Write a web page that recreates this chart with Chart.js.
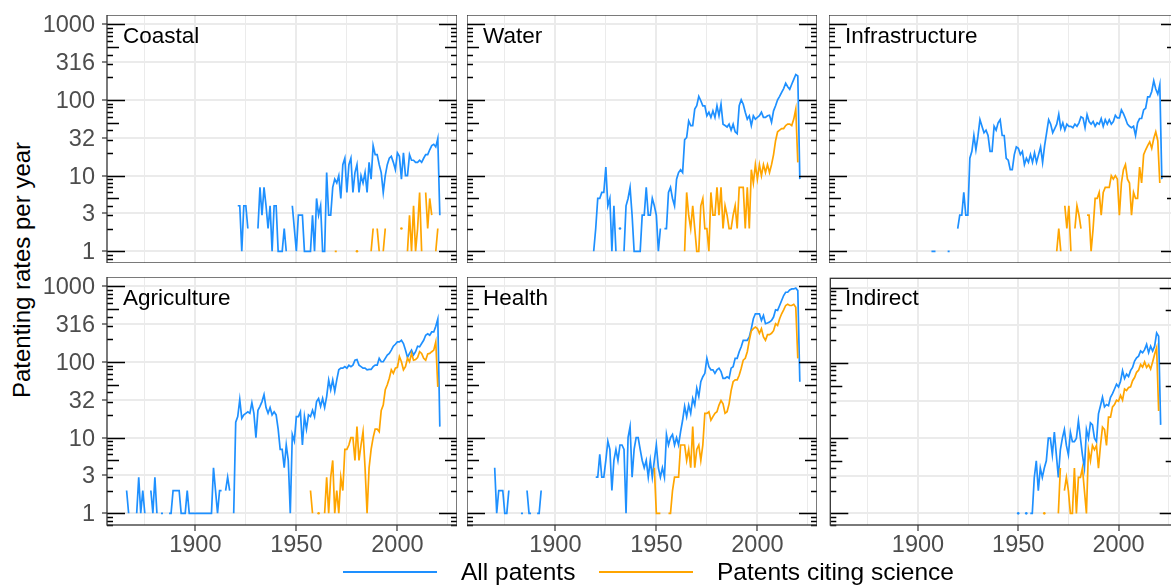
<!DOCTYPE html>
<html>
<head>
<meta charset="utf-8">
<script src="https://cdn.jsdelivr.net/npm/chart.js@4.4.1/dist/chart.umd.min.js"></script>
<style>
  html, body { margin: 0; padding: 0; background: #fff; overflow: hidden; }
  body { width: 1171px; height: 585px; position: relative; font-family: "Liberation Sans", Arial, sans-serif; }
  canvas { position: absolute; }
  .strip { position: absolute; font-size: 22.5px; line-height: 22.5px; color: #000; z-index: 2; white-space: nowrap; }
  .ytitle { position: absolute; left: 22px; top: 270px; transform: translate(-50%, -50%) rotate(-90deg);
            font-size: 24px; white-space: nowrap; color: #000; }
  .key-line { position: absolute; height: 2.4px; top: 570.5px; }
  .key-text { position: absolute; top: 560px; font-size: 24.5px; line-height: 24.5px; color: #000; white-space: nowrap; }
</style>
</head>
<body>
<div class="ytitle">Patenting rates per year</div>
<script>
const BLUE = '#1E90FF';
const ORANGE = '#FFA500';
const FONT = '"Liberation Sans", Arial, sans-serif';

const panelNames = ['Coastal', 'Water', 'Infrastructure', 'Agriculture', 'Health', 'Indirect'];
const seriesNames = ['All patents', 'Patents citing science'];
const yTicks = [1, 3.1623, 10, 31.623, 100, 316.23, 1000];
const xTicks = [1875, 1900, 1925, 1950, 1975, 2000, 2025];
const xLabelled = [1900, 1950, 2000];

// each series: list of [first year, yearly values]; null = no patents that year
const coastalAll = [[1921, [4,4,1,4,4,2,null,null,null,null,2,7,3,7,4,2,4,1,4,4,1,1,1,2,1,null,null,
  4,2,1,3,3,3,1,1,1,1,3,1,5,3,4,1,1,
  11,3,3,7,9,8,10,5,14,17,6,14,17,6,11,14,6,10,8,11,6,15,9,25,19,19,14,11,6,10,14,17,18,15,12,20,
  18,9,20,10,10,19,16,16,15,15,16,15,17,19,19,22,25,26,24,31,3]]];
const coastalCites = [[1969, [1,1]], [1980, [1]], [1987, [1,2,null,2,1,null,1,2]], [2002, [2]],
  [2005, [1,3,1,4,1,2,6,1,null,6,2,5,3,null,1,2]]];

const waterAll = [[1919, [1,2,5,5,6,6,13,4,5,1,4,1,null,2,null,1,4,5,7,3,1,1,1,1,3,3,7,3,3,5,
  4,3,1,2,null,2,2,6,7,5,4,9,11,12,11,30,32,53,46,46,76,84,112,98,84,84,62,69,59,72,
  59,84,62,88,48,46,44,48,40,48,38,36,84,101,88,69,56,62,46,62,56,59,62,69,59,59,62,63,51,72,
  84,101,112,126,142,167,150,139,162,188,218,208,9]]];
const waterCites = [[1964, [1,6,3,2,4,2,1,1,4,5,2,2,1,6,3,3,7,3,7,2,4,3,2,2,3,4,2,7,7,7,2,7,2,
  12,8,14,9,14,10,14,11,14,11,14,19,29,38,40,42,42,46,48,48,46,56,76,15]]];

const infraAll = [[1907, [1,1,1]], [1915, [1,1]], [1920, [2,3,3,6,3,3,17,21,34,22,
  33,55,45,37,40,34,21,21,45,40, 50,55,34,34,17,16,12,12,19,24, 23,19,21,14,17,15,19,15,20,15,
  19,24,15,25,37,55,48,37,42,48, 65,42,50,40,48,45,45,43,48,45, 50,60,58,43,64,52,48,52,45,50,
  48,57,45,55,48,55,48,52,63,58, 58,74,66,57,48,45,43,45,34,50, 57,57,74,78,110,110,130,180,140,120,
  160,9]]];
const infraCites = [[1969, [1,2,1,null,4,2,4,1,null,2,4,3,2,null,null,3,3,1,2,5,5,6,3,6,7,7,7,10,9,10,
  9,3,8,12,14,9,8,3,6,5,5,13,8,19,22,25,28,23,31,38,29,8]]];

const agriAll = [[1866, [2,1]], [1871, [1,3,1,2,1]], [1878, [2,1,3,1]], [1883, [1,1]],
  [1887, [1,1,2,2,2,2,1,1,1,2,1,1,1,1,1,1,1,1,1,1,1,1,4,2,1,2,2]], [1915, [2,3,2]],
  [1919, [1, 16,19,32,18,20,21,22,21,29,21, 10,23,26,30,37,25,21,25,20,22, 20,13,7,7,4,8,5,1,11,9,
  19,19,22,8,19,13,20,19,23,19, 30,33,26,33,25,35,58,43,58,41, 58,79,83,83,87,83,91,87,91,106,
  108,91,87,83,83,79,80,80,87,91, 91,112,101,101,112,124,130,144,162,172,
  185,185,194,176,144,115,130,144,124,137, 162,159,176,194,226,237,226,250,250,297, 370,14]]];
const agriCites = [[1957, [2,1]], [1961, [1]], [1964, [1,3,1,3,5,1,2,1,3,2,7,7,8,10,10,5,14,5,8,12,
  4,1,4,7,10,13,13,12,23,27,43,50,61,79,71,83,85,118,101,79,87,112,101,130,106,108,115,137,130,112,
  106,128,130,137,144,185,47]]];

const healthAll = [[1870, [4,1,2,2,2,1,1,2]], [1883, [1,1]], [1886, [2,1,1]], [1891, [1,1,2]],
  [1920, [3,3,6,3,3,5,9,7,2,5, 7,5,8,8,7,1,10,14,3,7, 10,10,7,5,4,5,3,5,3,5, 8,4,3,4,3,11,8,10,11,8,
  10,8,12,17,26,19,27,21,33,27, 45,35,55,64,71,112,87,79,79,71, 79,83,75,61,61,64,61,83,87,112,
  112,137,159,194,194,194,215,277,374,435, 435,435,356,414,322,328,338,356,394,491,
  482,560,652,758,838,838,900,927,927,955, 881,55]]];
const healthCites = [[1949, [4,1,1,1,null,null,null,1,1,2,3,3,3,8,8,8,5,7,4,14,4,7,8,5,8,21,21,22,17,19,
  21,22,27,31,28,21,22,28,42,55,58,58,67,83,106,112,137,194,258,277,290,277,240,277,215,194,230,230,240,260,
  322,305,374,435,491,560,580,560,560,580,530,112]]];

const indirectAll = [[1950, [1]], [1954, [1]], [1956, [1,1,3,5,2,4,3,4,5,10, 10,6,12,6,3,7,10,13,8,6,
  12,9,9,10,17,10,6,4,13,10, 16,15,10,9,21,27,35,26,28,27, 35,39,45,52,48,57,79,62,71,66,
  79,87,106,117,123,144,137,150,176,137, 167,144,167,250,226,15]]];
const indirectCites = [[1963, [1]], [1970, [1,4]], [1973, [2,3,2,1,1,4,1,3,3,4,2,1,7,5,8,7,8,4,8,14,
  13,8,19,19,26,28,32,31,37,32,45,43,47,48,58,64,75,80,95,88,103,87,95,83,103,130,159,23]]];

const panelSeries = [
  [coastalAll, coastalCites], [waterAll, waterCites], [infraAll, infraCites],
  [agriAll, agriCites], [healthAll, healthCites], [indirectAll, indirectCites]
];

// layout of the facet grid (px)
const colLeft = [107, 467, 829];
const rowTop = [15, 277];
const panelW = 350, panelH = 248;
const yAxisW = 107, xAxisH = 40;

Chart.defaults.font.family = FONT;

function toPoints(segs) {
  const pts = [];
  segs.forEach(([start, vals]) => {
    vals.forEach((v, i) => {
      const prev = i > 0 ? vals[i - 1] : null;
      const next = i < vals.length - 1 ? vals[i + 1] : null;
      pts.push({ x: start + i, y: v, iso: v != null && prev == null && next == null });
    });
    pts.push({ x: start + vals.length - 0.5, y: null });
  });
  return pts;
}

// border and log ticks on both sides of each panel
const panelDeco = {
  id: 'panelDeco',
  afterDatasetsDraw(chart) {
    const { ctx, chartArea: a } = chart;
    const y = chart.scales.y;
    ctx.save();
    ctx.strokeStyle = '#000';
    ctx.lineWidth = 1.4;
    ctx.beginPath();
    for (let k = -1; k <= 3; k++) {
      for (let m = 1; m <= 9; m++) {
        const v = m * Math.pow(10, k);
        if (v < y.min || v > y.max) continue;
        const py = Math.round(y.getPixelForValue(v)) + 0.5;
        const len = m === 1 ? 18 : (m === 5 ? 12 : 6);
        ctx.moveTo(a.left, py); ctx.lineTo(a.left + len, py);
        ctx.moveTo(a.right, py); ctx.lineTo(a.right - len, py);
      }
    }
    ctx.stroke();
    ctx.strokeStyle = '#333';
    ctx.lineWidth = 1.3;
    ctx.strokeRect(a.left, a.top, a.right - a.left, a.bottom - a.top);
    ctx.restore();
  }
};

function makePanel(idx) {
  const col = idx % 3, row = Math.floor(idx / 3);
  const showY = col === 0, showX = row === 1;
  const yw = showY ? yAxisW : 0;
  const xh = showX ? xAxisH : 0;

  const canvas = document.createElement('canvas');
  canvas.width = panelW + yw;
  canvas.height = panelH + xh;
  canvas.style.left = (colLeft[col] - yw) + 'px';
  canvas.style.top = rowTop[row] + 'px';
  canvas.style.width = canvas.width + 'px';
  canvas.style.height = canvas.height + 'px';
  document.body.appendChild(canvas);

  const strip = document.createElement('div');
  strip.className = 'strip';
  strip.textContent = panelNames[idx];
  strip.style.left = (colLeft[col] + 16) + 'px';
  strip.style.top = (rowTop[row] + 9.5) + 'px';
  document.body.appendChild(strip);

  const [all, cites] = panelSeries[idx];
  const lineStyle = (color, order) => ({
    borderColor: color,
    backgroundColor: color,
    borderWidth: 1.7,
    pointRadius: c => (c.raw && c.raw.iso ? 1.3 : 0),
    pointBorderWidth: 0,
    pointHoverRadius: 0,
    spanGaps: false,
    tension: 0,
    order: order
  });

  new Chart(canvas, {
    type: 'line',
    data: {
      datasets: [
        Object.assign({ label: seriesNames[0], data: toPoints(all) }, lineStyle(BLUE, 2)),
        Object.assign({ label: seriesNames[1], data: toPoints(cites) }, lineStyle(ORANGE, 1))
      ]
    },
    options: {
      responsive: false,
      devicePixelRatio: 1,
      animation: false,
      events: [],
      layout: { padding: 0 },
      plugins: { legend: { display: false }, tooltip: { enabled: false } },
      scales: {
        x: {
          type: 'linear',
          min: 1856.3,
          max: 2029.5,
          afterBuildTicks: s => { s.ticks = xTicks.map(v => ({ value: v })); },
          afterFit: s => { s.height = xh; s.paddingLeft = 0; s.paddingRight = 0; },
          ticks: {
            display: showX, autoSkip: false, maxRotation: 0, padding: 0,
            color: '#4d4d4d', font: { size: 23.5 },
            callback: v => (xLabelled.includes(v) ? String(v) : '')
          },
          grid: {
            color: '#ebebeb',
            lineWidth: c => (c.tick && xLabelled.includes(c.tick.value) ? 2 : 1),
            drawTicks: showX,
            tickLength: 6,
            tickWidth: 1.2,
            tickColor: c => (c.tick && xLabelled.includes(c.tick.value) ? '#333' : 'rgba(0,0,0,0)')
          },
          border: { display: false }
        },
        y: {
          type: 'logarithmic',
          min: Math.pow(10, -0.128),
          max: Math.pow(10, 3.125),
          afterBuildTicks: s => { s.ticks = yTicks.map(v => ({ value: v })); },
          afterFit: s => { s.width = yw; s.paddingTop = 0; s.paddingBottom = 0; },
          ticks: {
            display: showY, padding: 7, labelOffset: 1.5,
            color: '#4d4d4d', font: { size: 23.5 },
            callback: v => String(Math.round(v))
          },
          grid: { color: '#ebebeb', lineWidth: 2, drawTicks: showY, tickLength: 5, tickWidth: 1.2, tickColor: '#333' },
          border: { display: false }
        }
      }
    },
    plugins: [panelDeco]
  });
}

panelNames.forEach((_, i) => makePanel(i));

// legend along the bottom
const keyPos = [{ line: 343, text: 461, color: BLUE }, { line: 599, text: 717, color: ORANGE }];
seriesNames.forEach((name, i) => {
  const ln = document.createElement('div');
  ln.className = 'key-line';
  ln.style.left = keyPos[i].line + 'px';
  ln.style.width = '94px';
  ln.style.background = keyPos[i].color;
  document.body.appendChild(ln);
  const tx = document.createElement('div');
  tx.className = 'key-text';
  tx.style.left = keyPos[i].text + 'px';
  tx.textContent = name;
  document.body.appendChild(tx);
});
</script>
</body>
</html>
